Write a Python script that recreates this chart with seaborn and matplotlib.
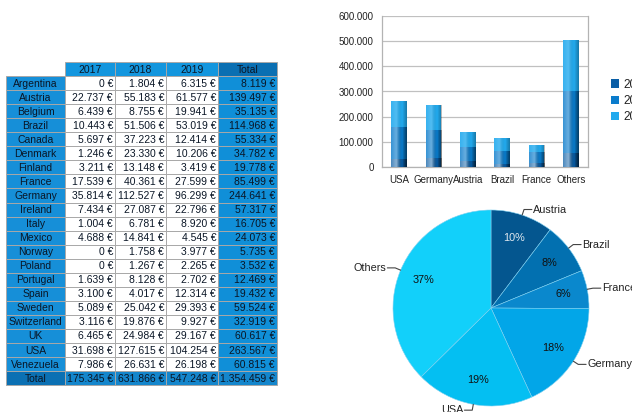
import numpy as np
import pandas as pd
import matplotlib
matplotlib.use("Agg")
import matplotlib.pyplot as plt
from matplotlib.patches import Rectangle, Patch
from matplotlib.colors import LinearSegmentedColormap
import seaborn as sns

# ---- data ---------------------------------------------------------------
countries = ["Argentina", "Austria", "Belgium", "Brazil", "Canada", "Denmark",
             "Finland", "France", "Germany", "Ireland", "Italy", "Mexico",
             "Norway", "Poland", "Portugal", "Spain", "Sweden", "Switzerland",
             "UK", "USA", "Venezuela"]
years = ["2017", "2018", "2019"]
sales_2017 = [0, 22737, 6439, 10443, 5697, 1246, 3211, 17539, 35814, 7434, 1004,
              4688, 0, 0, 1639, 3100, 5089, 3116, 6465, 31698, 7986]
sales_2018 = [1804, 55183, 8755, 51506, 37223, 23330, 13148, 40361, 112527, 27087,
              6781, 14841, 1758, 1267, 8128, 4017, 25042, 19876, 24984, 127615, 26631]
sales_2019 = [6315, 61577, 19941, 53019, 12414, 10206, 3419, 27599, 96299, 22796,
              8920, 4545, 3977, 2265, 2702, 12314, 29393, 9927, 29167, 104254, 26198]
row_totals = [8119, 139497, 35135, 114968, 55334, 34782, 19778, 85499, 244641, 57317,
              16705, 24073, 5735, 3532, 12469, 19432, 59524, 32919, 60617, 263567, 60815]
year_totals = [175345, 631866, 547248]
grand_total = 1354459

top_countries = ["USA", "Germany", "Austria", "Brazil", "France"]
pie_order = ["Austria", "Brazil", "France", "Germany", "USA", "Others"]


def euro(v):
    return f"{v:,}".replace(",", ".") + " €"


# ---- figure -------------------------------------------------------------
sns.set_style("white")
plt.rcParams["font.family"] = ["Liberation Sans", "DejaVu Sans"]
W, H = 632, 412
fig = plt.figure(figsize=(W / 100, H / 100), dpi=100)
fig.patch.set_facecolor("white")

# ---- table (drawn in pixel coordinates) ---------------------------------
tab = fig.add_axes([0, 0, 1, 1])
tab.set_xlim(0, W)
tab.set_ylim(H, 0)
tab.axis("off")

col_x = [6, 65, 115, 166, 218, 277]
row_h = 14.05
top = 62.0

lab_blue = "#168fd8"
head_blue = "#1396de"
total_head = "#0a6fb2"
total_col = "#108fd8"
total_row_lab = "#0b70b3"
total_row_val = "#1486cc"
grid_col = "#a8a8a8"
txt_dark = "#0a1626"
fs = 7.5


def cell(x0, x1, y0, fc, text, ha="right", color=txt_dark):
    tab.add_patch(Rectangle((x0, y0), x1 - x0, row_h, facecolor=fc,
                            edgecolor=grid_col, linewidth=0.7))
    if ha == "center":
        tx = (x0 + x1) / 2
    else:
        tx = x1 - 2.0
    tab.text(tx, y0 + row_h / 2 + 0.5, text, ha=ha, va="center",
             fontsize=fs, color=color)


# header row
for j, yl in enumerate(years):
    cell(col_x[j + 1], col_x[j + 2], top, head_blue, yl, ha="center")
cell(col_x[4], col_x[5], top, total_head, "Total", ha="center")

# body rows
series = [sales_2017, sales_2018, sales_2019]
for i, c in enumerate(countries):
    y0 = top + row_h * (i + 1)
    cell(col_x[0], col_x[1], y0, lab_blue, c, ha="center")
    for j in range(3):
        cell(col_x[j + 1], col_x[j + 2], y0, "white", euro(series[j][i]))
    cell(col_x[4], col_x[5], y0, total_col, euro(row_totals[i]))

# totals row
y0 = top + row_h * (len(countries) + 1)
cell(col_x[0], col_x[1], y0, total_row_lab, "Total", ha="center")
for j in range(3):
    cell(col_x[j + 1], col_x[j + 2], y0, total_row_val, euro(year_totals[j]))
cell(col_x[4], col_x[5], y0, total_row_val, euro(grand_total))

# ---- stacked bar chart --------------------------------------------------
idx = {c: i for i, c in enumerate(countries)}
bar_rows = []
for name in top_countries:
    i = idx[name]
    bar_rows.append((name, sales_2017[i], sales_2018[i], sales_2019[i]))
others = ("Others",
          year_totals[0] - sum(sales_2017[idx[c]] for c in top_countries),
          year_totals[1] - sum(sales_2018[idx[c]] for c in top_countries),
          year_totals[2] - sum(sales_2019[idx[c]] for c in top_countries))
bar_rows.append(others)
bars = pd.DataFrame(bar_rows, columns=["country", "y2017", "y2018", "y2019"])
bars["c2017"] = bars["y2017"]
bars["c2018"] = bars["c2017"] + bars["y2018"]
bars["c2019"] = bars["c2018"] + bars["y2019"]

bar_colors = {"2017": "#0a5ea6", "2018": "#0a7ccc", "2019": "#22aaee"}

bx = fig.add_axes([382 / W, 1 - 167 / H, 206 / W, 151 / H])
for col, yl in [("c2019", "2019"), ("c2018", "2018"), ("c2017", "2017")]:
    sns.barplot(data=bars, x="country", y=col, color=bar_colors[yl],
                saturation=1, width=0.45, ax=bx, linewidth=0, zorder=3)

# cylinder-like shading across each bar
shade = LinearSegmentedColormap.from_list(
    "shade", [(0.0, (1, 1, 1, 0.10)), (0.35, (1, 1, 1, 0.22)),
              (0.7, (0, 0, 0, 0.0)), (1.0, (0, 0, 0, 0.30))])
grad = np.linspace(0, 1, 64).reshape(1, -1)
for p in list(bx.patches):
    x0, y0b = p.get_x(), p.get_y()
    w, h = p.get_width(), p.get_height()
    if h <= 0:
        continue
    im = bx.imshow(grad, cmap=shade, extent=(x0, x0 + w, y0b, y0b + h),
                   aspect="auto", zorder=3.5, interpolation="bilinear")
    im.set_clip_path(p)

bx.set_ylim(0, 600000)
bx.set_xlim(-0.5, 5.5)
bx.set_yticks(np.arange(0, 600001, 100000))
bx.set_yticklabels([f"{v:,}".replace(",", ".") for v in range(0, 600001, 100000)],
                   fontsize=7, color="#222222")
bx.set_xticks(range(6))
bx.set_xticklabels(bars["country"], fontsize=7, color="#222222")
bx.set_xticks(np.arange(-0.5, 6, 1), minor=True)
bx.tick_params(axis="x", which="major", length=0, pad=6)
bx.tick_params(axis="x", which="minor", length=4, width=0.8, color="#b3b3b3",
               direction="out")
bx.tick_params(axis="y", length=4, width=0.8, color="#b3b3b3", pad=2)
bx.set_xlabel("")
bx.set_ylabel("")
bx.yaxis.grid(True, color="#c0c0c0", linewidth=0.9, zorder=0)
bx.set_axisbelow(True)
for s in ["left", "right", "bottom"]:
    bx.spines[s].set_visible(True)
    bx.spines[s].set_color("#b3b3b3")
    bx.spines[s].set_linewidth(0.9)
bx.spines["top"].set_visible(False)

handles = [Patch(facecolor=bar_colors[y], edgecolor="none") for y in years]
fig.legend(handles, years, loc="upper left",
           bbox_to_anchor=(606 / W, 1 - 74 / H), frameon=False,
           fontsize=8.5, handlelength=0.7, handleheight=0.7,
           handletextpad=0.4, labelspacing=0.35, borderaxespad=0,
           labelcolor="#222222")

# ---- pie chart ----------------------------------------------------------
pie_vals = [row_totals[idx[c]] for c in pie_order[:-1]]
pie_vals.append(grand_total - sum(pie_vals))
pie_colors = ["#04568f", "#0270b0", "#0a88cd", "#02a6e8", "#04bff2", "#12d0fa"]

r_px = 98
cx, cy = 491, 308
px = fig.add_axes([(cx - r_px) / W, 1 - (cy + r_px) / H, 2 * r_px / W, 2 * r_px / H])
wedges, _, autotexts = px.pie(pie_vals, colors=pie_colors, startangle=90,
                              counterclock=False, autopct="%1.0f%%",
                              pctdistance=0.75, radius=1.0,
                              wedgeprops=dict(linewidth=0.4, edgecolor="#7fd0f0"),
                              textprops=dict(fontsize=7.8, color="#111111"))
autotexts[0].set_color("#e0e8f0")
px.set_xlim(-1, 1)
px.set_ylim(-1, 1)
px.set_aspect("equal")
px.axis("off")

for w, name in zip(wedges, pie_order):
    ang = np.deg2rad((w.theta1 + w.theta2) / 2)
    ca, sa = np.cos(ang), np.sin(ang)
    p0 = (1.0 * ca, 1.0 * sa)
    p1 = (1.06 * ca, 1.06 * sa)
    side = 1 if ca >= 0 else -1
    p2 = (p1[0] + side * 0.08, p1[1])
    px.plot([p0[0], p1[0], p2[0]], [p0[1], p1[1], p2[1]], color="#444444",
            linewidth=0.8, clip_on=False)
    px.text(p2[0] + side * 0.01, p2[1], name, ha="left" if side > 0 else "right",
            va="center", fontsize=7.8, color="#222222", clip_on=False)

fig.savefig("out.png", dpi=100, facecolor="white")
